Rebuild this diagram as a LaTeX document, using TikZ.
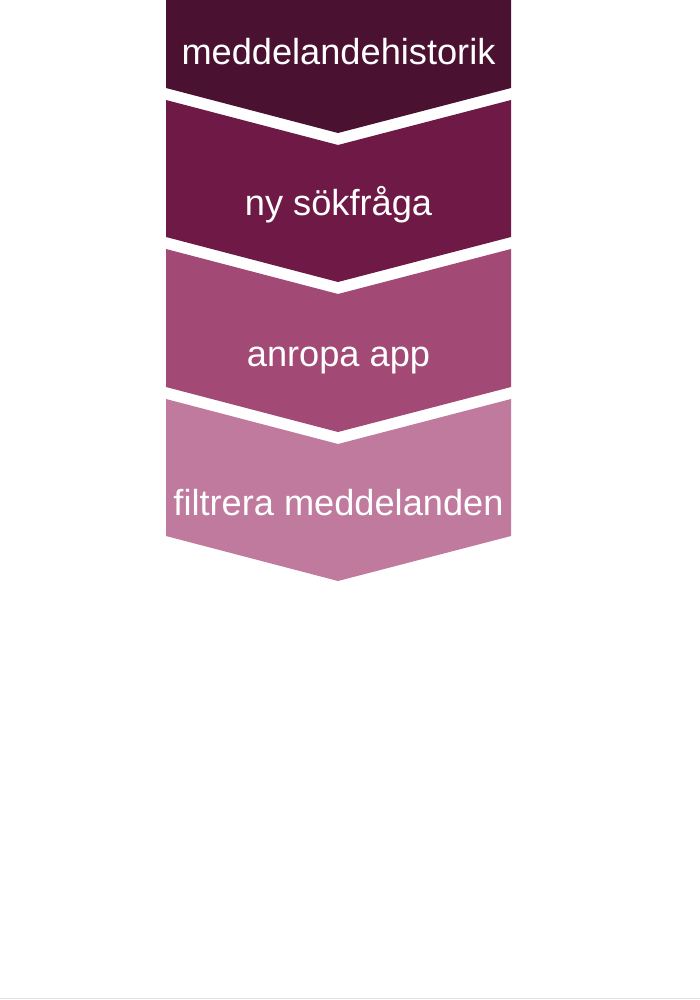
\documentclass[tikz,border=0pt]{standalone}
\usepackage{fontspec}
\setmainfont{Liberation Sans}
\definecolor{cA}{HTML}{4A1131}
\definecolor{cB}{HTML}{6F1946}
\definecolor{cC}{HTML}{A34975}
\definecolor{cD}{HTML}{C07A9E}
\begin{document}
\begin{tikzpicture}[x=1pt,y=-1pt,
  lbl/.style={text=white,font=\fontsize{36.2}{40}\selectfont,anchor=base,inner sep=0pt}]
\useasboundingbox (0,0) rectangle (700,1000);
\fill[white] (0,0) rectangle (700,1000);
% chevrons: top-left y = t, height 137, depth 45
\begin{scope}
\clip (0,0) rectangle (700,1000);
\fill[cA] (166,-50) -- (338,-5) -- (511,-50) -- (511,88) -- (338,133) -- (166,88) -- cycle;
\end{scope}
\fill[cB] (166,100) -- (338,145) -- (511,100) -- (511,237) -- (338,282) -- (166,237) -- cycle;
\fill[cC] (166,249) -- (338,294) -- (511,249) -- (511,387) -- (338,432) -- (166,387) -- cycle;
\fill[cD] (166,399) -- (338,444) -- (511,399) -- (511,536) -- (338,581) -- (166,536) -- cycle;
\node[lbl] (t1) at (338.5,65) {meddelandehistorik};
\node[lbl] (t2) at (338.5,216) {ny sökfråga};
\node[lbl] (t3) at (338.5,366) {anropa app};
\node[lbl] (t4) at (338.5,515) {filtrera meddelanden};
\draw[black!12,line width=1pt] (0,998.5) -- (700,998.5);
\end{tikzpicture}
\end{document}
